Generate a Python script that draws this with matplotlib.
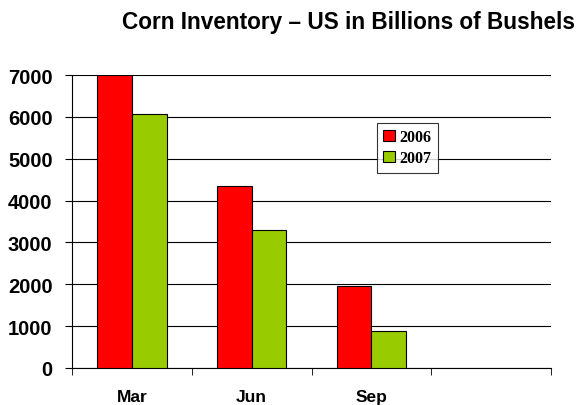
import numpy as np
import matplotlib
matplotlib.use("Agg")
import matplotlib.pyplot as plt

# Data
categories = ["Mar", "Jun", "Sep", ""]
series = ["2006", "2007"]
vals_2006 = [6990, 4360, 1970, np.nan]
vals_2007 = [6060, 3300, 890, np.nan]
colors = ["#FF0000", "#99CC00"]

plt.rcParams["font.family"] = ["Liberation Sans", "DejaVu Sans"]

fig = plt.figure(figsize=(5.78, 4.06), dpi=100)
ax = fig.add_axes([72 / 578, 1 - 369 / 406, 479 / 578, 293 / 406])

x = np.arange(len(categories))
w = 0.29
ax.bar(x - w / 2, vals_2006, w, color=colors[0], edgecolor="black", lw=0.8,
       label=series[0], zorder=3)
ax.bar(x + w / 2, vals_2007, w, color=colors[1], edgecolor="black", lw=0.8,
       label=series[1], zorder=3)

ax.set_xlim(-0.5, len(categories) - 0.5)
ax.set_ylim(0, 7000)
ax.set_yticks(np.arange(0, 7001, 1000))
ax.yaxis.grid(True, color="black", lw=0.8, zorder=0)
ax.set_axisbelow(True)

ax.set_xticks(x)
ax.set_xticklabels(categories, fontsize=12.5, fontweight="bold")
ax.tick_params(axis="x", length=0, pad=15)
ax.set_xticks(np.arange(-0.5, len(categories)), minor=True)
ax.tick_params(axis="x", which="minor", length=5, direction="out")
ax.tick_params(axis="y", length=5, direction="out", labelsize=14.5, pad=9)
for lab in ax.get_yticklabels():
    lab.set_fontweight("bold")

for s in ["top", "right"]:
    ax.spines[s].set_visible(False)
ax.spines["left"].set_color("black")
ax.spines["bottom"].set_color("black")

leg = ax.legend(loc="upper left", bbox_to_anchor=(305 / 479, 1 - 48 / 293),
                prop={"family": ["Liberation Serif", "DejaVu Serif"],
                      "weight": "bold", "size": 11.5},
                frameon=True, fancybox=False, edgecolor="black",
                handlelength=0.7, handleheight=0.7, handletextpad=0.3,
                borderpad=0.4, labelspacing=0.3, borderaxespad=0)
leg.get_frame().set_linewidth(0.8)

fig.text(348 / 578, 1 - 23 / 406, "Corn Inventory \u2013 US in Billions of Bushels",
         ha="center", va="center", fontsize=16.3, fontweight="bold")

fig.savefig("out.png", dpi=100)
